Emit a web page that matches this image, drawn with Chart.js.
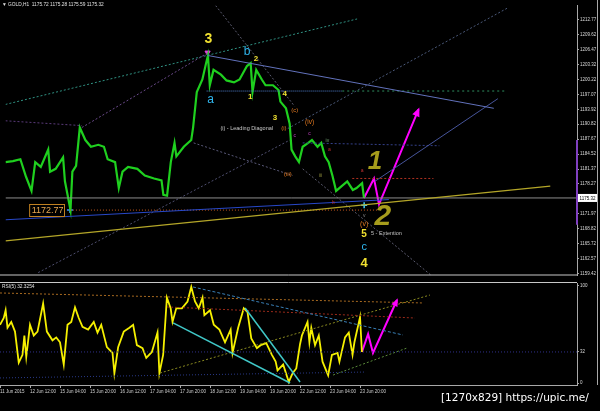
<!DOCTYPE html>
<html>
<head>
<meta charset="utf-8">
<script src="https://cdn.jsdelivr.net/npm/chart.js@4.4.1/dist/chart.umd.min.js"></script>
<style>
  html, body { margin: 0; padding: 0; background: #000; }
  body { width: 600px; height: 411px; position: relative; overflow: hidden; }
  canvas { position: absolute; left: 0; }
  #priceChart { top: 0; }
  #rsiChart { top: 281px; }
  #stamp { position: absolute; left: 441px; top: 391px; color: #fff; font: 10.5px "DejaVu Sans", sans-serif; white-space: nowrap; }
</style>
</head>
<body>
<canvas id="priceChart" width="600" height="281"></canvas>
<canvas id="rsiChart" width="600" height="130"></canvas>
<div id="stamp">[1270x829] https://upic.me/</div>
<script>
Chart.defaults.animation = false;
Chart.defaults.font.family = '"Liberation Sans", Arial, sans-serif';
Chart.defaults.color = '#c8c8c8';

// Axis data
const X_MAX = 307.7;   // bars visible in the window
const timeTicks = [0, 16, 32, 48, 64, 80, 96, 112, 128, 144, 160, 176, 192];
const timeLabels = ["11 Jun 2015", "12 Jun 12:00", "15 Jun 04:00", "15 Jun 20:00", "16 Jun 12:00",
  "17 Jun 04:00", "17 Jun 20:00", "18 Jun 12:00", "19 Jun 04:00", "19 Jun 20:00",
  "22 Jun 12:00", "23 Jun 04:00", "23 Jun 20:00"];
const priceTicks = [1212.77, 1209.62, 1206.47, 1203.32, 1200.22, 1197.07, 1193.92, 1190.82,
  1187.67, 1184.52, 1181.37, 1178.27, 1171.97, 1168.82, 1165.72, 1162.57, 1159.42];
const priceMin = 1159.01, priceMax = 1215.80;
const rsiTicks = [100, 32, 0];
const ohlc = [1175.72, 1175.28, 1175.59, 1175.32];
const rsiNow = 32.3254;

// GOLD H1 closes
const priceBars = [0, 4, 8, 11, 14, 16, 19, 23, 24, 27, 31, 32, 35, 36, 38, 40, 43, 46, 50, 53,
  55, 59, 61, 63, 66, 71, 75, 80, 84, 85, 87, 89, 91, 92, 96, 100, 101, 103, 106, 108,
  109, 110, 112, 116, 119, 123, 126, 130, 132, 133, 135, 138, 140, 144, 147, 148, 151, 153, 154, 156,
  158, 160, 163, 165, 168, 170, 172, 174, 176, 178, 181, 184, 187, 189, 192, 193];
const priceClose = [1182.86, 1183.06, 1183.47, 1179.83, 1176.80, 1182.86, 1181.85, 1185.49, 1180.84, 1181.45,
  1183.87, 1178.82, 1172.77, 1180.84, 1182.05, 1190.13, 1187.50, 1186.09, 1186.50, 1186.09,
  1183.47, 1182.86, 1177.40, 1180.84, 1181.85, 1181.45, 1180.03, 1179.42, 1179.02, 1175.99,
  1175.79, 1182.86, 1186.90, 1184.07, 1186.09, 1187.50, 1190.13, 1197.61, 1200.24, 1203.68,
  1205.29, 1199.03, 1202.26, 1201.25, 1200.04, 1199.63, 1200.24, 1203.07, 1203.68, 1197.61,
  1202.26, 1200.24, 1199.03, 1199.03, 1198.02, 1195.59, 1194.18, 1190.94, 1185.49, 1184.07,
  1182.86, 1186.09, 1186.90, 1187.50, 1186.09, 1186.90, 1184.07, 1182.86, 1180.03, 1176.80,
  1177.81, 1178.82, 1177.00, 1177.40, 1178.41, 1175.32];

// RSI(5)
const rsiBars = [0, 2, 3, 4, 6, 8, 10, 12, 13, 14, 16, 18, 20, 23, 25, 28, 30, 32, 34, 36,
  38, 40, 42, 44, 47, 50, 52, 54, 57, 60, 61, 63, 66, 69, 71, 73, 76, 78, 81, 84,
  85, 87, 89, 91, 92, 94, 97, 100, 102, 104, 106, 108, 109, 112, 114, 117, 120, 123, 124, 127,
  130, 132, 134, 137, 139, 142, 145, 147, 148, 151, 154, 156, 158, 160, 161, 164, 165, 166, 168, 170,
  172, 175, 177, 180, 181, 184, 186, 188, 189, 192, 193];
const rsiValues = [60, 67, 75, 57, 63, 53, 21, 29, 49, 27, 60, 49, 53, 82, 53, 44, 47, 42, 19, 60,
  63, 78, 67, 58, 55, 63, 52, 60, 37, 31, 10, 37, 53, 57, 60, 39, 36, 26, 32, 52,
  10, 29, 88, 77, 63, 77, 77, 84, 99, 84, 77, 88, 70, 75, 60, 55, 42, 55, 31, 57,
  77, 73, 46, 36, 39, 41, 29, 22, 13, 19, 1, 10, 15, 40, 49, 63, 42, 57, 39, 49,
  22, 8, 29, 31, 22, 47, 52, 29, 42, 68, 32];

// forecast paths (magenta)
const forecastBars = [193, 198.4, 201.1, 222.4];
const forecastPrice = [1175.32, 1179.42, 1173.97, 1193.97];
const rsiForecastBars = [193, 196.3, 198.9, 211.7];
const rsiForecast = [32, 50.5, 30.9, 85.6];

// trend lines: [bar1, value1, bar2, value2]
const priceLines = [
  { p: [0, 1194.99, 189.3, 1212.97], c: '#2f8f80', d: [2, 2] },
  { p: [108.8, 1205.29, 262.9, 1194.18], c: '#6272bc' },
  { p: [108.3, 1197.81, 181.3, 1197.81], c: '#5080d0', d: [1, 1] },
  { p: [181.3, 1197.81, 269.3, 1197.81], c: '#2f8f60', d: [2, 3] },
  { p: [152, 1189.93, 270.9, 1215.40], c: '#4a5878', d: [2, 2] },
  { p: [198.9, 1178.82, 265.1, 1196.20], c: '#46549a' },
  { p: [0, 1166.29, 293.3, 1177.81], c: '#b4a628', w: 1.3 },
  { p: [0, 1170.73, 206.4, 1174.98], c: '#2848c8' },
  { p: [0, ohlc[3], X_MAX, ohlc[3]], c: '#8c8c8c' },
  { p: [34.7, 1172.77, 201, 1172.77], c: '#c85a1e', d: [1, 2] },
  { p: [186.7, 1179.42, 230.4, 1179.42], c: '#b03020', d: [2, 2] },
  { p: [160, 1186.90, 233.6, 1186.30], c: '#34408a', d: [2, 2] },
  { p: [17.6, 1159.62, 153.1, 1187.50], c: '#4e4e6e', d: [2, 2] },
  { p: [101.3, 1186.90, 154.7, 1180.03], c: '#5a5a7a', d: [2, 2] },
  { p: [113.1, 1215.80, 155.7, 1194.58], c: '#5a5a6e', d: [2, 2] },
  { p: [160, 1181.44, 229.3, 1159.01], c: '#5a5a6e', d: [2, 2] },
  { p: [41.1, 1190.13, 108.3, 1205.70], c: '#6a4a8a', d: [2, 2] },
  { p: [0, 1191.55, 41.1, 1190.54], c: '#5a3a7a', d: [2, 2] }
];
const rsiLines = [
  { p: [92.3, 61.9, 154.7, 0], c: '#40c8c8', w: 1.5 },
  { p: [130.7, 77.3, 160, 1], c: '#40c8c8', w: 1.5 },
  { p: [102.9, 99, 214.9, 49.5], c: '#3a80b8', d: [3, 2] },
  { p: [0, 92.8, 225.6, 82.5], c: '#a86a20', d: [2, 2] },
  { p: [89.1, 78.4, 221.3, 67.0], c: '#9a2a1a', d: [2, 2] },
  { p: [0, 32, X_MAX, 32], c: '#30308a', d: [1, 2] },
  { p: [0, 5.2, 194.7, 11.3], c: '#2a3a8a', d: [1, 2] },
  { p: [85.3, 10.3, 229.3, 90.7], c: '#8a8a20', d: [2, 2] },
  { p: [177.6, 8.2, 217.1, 36.1], c: '#5a8a3a', d: [2, 2] }
];

// wave labels: text, bar, price
const YEL = '#f0e030', CYA = '#30b8f0', ORA = '#e07820', OLV = '#a69c1c';
const waveLabels = [
  { t: '3', x: 109.3, y: 1208.73, c: YEL, s: 14, f: 'bold' },
  { t: 'b', x: 130.1, y: 1206.1, c: CYA, s: 12 },
  { t: '2', x: 134.9, y: 1204.69, c: YEL, s: 8, f: 'bold' },
  { t: 'a', x: 110.4, y: 1196.0, c: CYA, s: 12 },
  { t: '1', x: 131.7, y: 1196.6, c: YEL, s: 8, f: 'bold' },
  { t: '4', x: 150.4, y: 1197.2, c: YEL, s: 8, f: 'bold' },
  { t: '3', x: 145.1, y: 1192.2, c: YEL, s: 8, f: 'bold' },
  { t: '(i) - Leading Diagonal', x: 115.7, y: 1189.93, c: '#c8c8c8', s: 5.5, a: 'left' },
  { t: '(i)', x: 149.9, y: 1189.93, c: ORA, s: 6 },
  { t: '(c)', x: 155.7, y: 1193.77, c: ORA, s: 6 },
  { t: '(iv)', x: 163.7, y: 1191.35, c: ORA, s: 6.5 },
  { t: '(iii)', x: 152, y: 1180.23, c: ORA, s: 6 },
  { t: '(v)', x: 193.1, y: 1169.92, c: ORA, s: 7 },
  { t: '5', x: 193.1, y: 1167.7, c: YEL, s: 10, f: 'bold' },
  { t: 'c', x: 193.1, y: 1165.1, c: CYA, s: 11 },
  { t: '4', x: 193.1, y: 1161.6, c: YEL, s: 13, f: 'bold' },
  { t: '5 - Extention', x: 196.8, y: 1167.9, c: '#c0c0c0', s: 5.5, a: 'left' },
  { t: '1', x: 198.9, y: 1182.86, c: OLV, s: 26, f: 'italic bold' },
  { t: '2', x: 203.2, y: 1171.34, c: OLV, s: 30, f: 'italic bold' },
  { t: 'c', x: 163.7, y: 1188.92, c: '#c040c0', s: 5 },
  { t: 'c', x: 155.7, y: 1188.5, c: '#c040c0', s: 5 },
  { t: 'iv', x: 173.3, y: 1187.3, c: '#6a9a6a', s: 5 },
  { t: 'a', x: 174.4, y: 1185.5, c: '#c03030', s: 5 },
  { t: 'iii', x: 169.6, y: 1180.0, c: '#8a8a3a', s: 5 },
  { t: 'a', x: 192, y: 1181.0, c: '#c03030', s: 5 },
  { t: 'b', x: 176.5, y: 1174.4, c: '#c03030', s: 5 },
  { t: 'v', x: 193.1, y: 1171.7, c: '#8a8a8a', s: 5 }
];
const lowLabel = { t: '1172.77', x: 31.5, y: 1172.77 };

const toXY = (xs, ys) => xs.map((x, i) => ({ x, y: ys[i] }));
const segment = (l) => ({
  data: [{ x: l.p[0], y: l.p[1] }, { x: l.p[2], y: l.p[3] }],
  borderColor: l.c, borderWidth: l.w || 1, borderDash: l.d || [],
  pointRadius: 0, tension: 0, fill: false
});

function rightAxis(min, max, ticks, fmt) {
  return {
    type: 'linear', position: 'right', min, max,
    afterBuildTicks: a => { a.ticks = ticks.map(v => ({ value: v })); },
    afterFit: a => { a.width = 23; a.paddingTop = 0; a.paddingBottom = 0; },
    grid: { drawOnChartArea: false, drawTicks: true, tickLength: 2, color: '#a8a8a8' },
    border: { display: true, color: '#a8a8a8' },
    ticks: { callback: fmt, font: { size: 4.5 }, color: '#d8d8d8', padding: 1, autoSkip: false }
  };
}

function drawLabels(chart, list) {
  const { ctx, scales: { x, y } } = chart;
  ctx.save();
  ctx.textBaseline = 'middle';
  list.forEach(l => {
    ctx.font = `${l.f || ''} ${l.s}px "Liberation Sans", Arial, sans-serif`;
    ctx.fillStyle = l.c;
    ctx.textAlign = l.a || 'center';
    ctx.fillText(l.t, x.getPixelForValue(l.x), y.getPixelForValue(l.y));
  });
  ctx.restore();
}

function arrowHead(chart, label, color, size) {
  const idx = chart.data.datasets.findIndex(d => d.label === label);
  const pts = chart.getDatasetMeta(idx).data;
  const a = pts[pts.length - 2], b = pts[pts.length - 1];
  const ang = Math.atan2(b.y - a.y, b.x - a.x);
  const ctx = chart.ctx;
  ctx.save();
  ctx.fillStyle = color;
  ctx.beginPath();
  ctx.moveTo(b.x + 2 * Math.cos(ang), b.y + 2 * Math.sin(ang));
  ctx.lineTo(b.x - size * Math.cos(ang - 0.5), b.y - size * Math.sin(ang - 0.5));
  ctx.lineTo(b.x - size * Math.cos(ang + 0.5), b.y - size * Math.sin(ang + 0.5));
  ctx.closePath();
  ctx.fill();
  ctx.restore();
}

function frame(ctx, x1, y1, x2, y2, color) {
  ctx.save();
  ctx.strokeStyle = color;
  ctx.lineWidth = 1;
  ctx.beginPath();
  ctx.moveTo(x1, y1);
  ctx.lineTo(x2, y2);
  ctx.stroke();
  ctx.restore();
}

const mainDecor = {
  id: 'mainDecor',
  afterDatasetsDraw(chart) {
    const { ctx, chartArea, scales: { x, y } } = chart;
    drawLabels(chart, waveLabels);
    arrowHead(chart, 'forecast', '#ff00ff', 8);

    // low price tag
    ctx.save();
    ctx.font = '9px "Liberation Sans", Arial, sans-serif';
    const w = ctx.measureText(lowLabel.t).width;
    const rx = Math.round(x.getPixelForValue(lowLabel.x)) + 0.5;
    const ry = Math.round(y.getPixelForValue(lowLabel.y)) + 0.5;
    ctx.fillStyle = '#000';
    ctx.fillRect(rx - w - 3, ry - 6, w + 3, 12);
    ctx.strokeStyle = '#c08020';
    ctx.strokeRect(rx - w - 3, ry - 6, w + 3, 12);
    ctx.fillStyle = '#e8a850';
    ctx.textAlign = 'right';
    ctx.textBaseline = 'middle';
    ctx.fillText(lowLabel.t, rx - 1, ry + 0.5);
    ctx.restore();

    // header
    ctx.save();
    ctx.font = '4.8px "Liberation Sans", Arial, sans-serif';
    ctx.fillStyle = '#e0e0e0';
    ctx.textBaseline = 'middle';
    ctx.fillText('\u25BC GOLD,H1  ' + ohlc.map(v => v.toFixed(2)).join(' '), 2, 5);
    ctx.restore();

    // marker on price axis
    ctx.save();
    ctx.strokeStyle = '#8040c0';
    ctx.lineWidth = 2;
    ctx.beginPath();
    ctx.moveTo(chartArea.right, y.getPixelForValue(1187.5));
    ctx.lineTo(chartArea.right, y.getPixelForValue(1169.7));
    ctx.stroke();
    const py = y.getPixelForValue(ohlc[3]);
    ctx.fillStyle = '#ffffff';
    ctx.fillRect(chartArea.right + 1, py - 4, 20, 8);
    ctx.fillStyle = '#000';
    ctx.font = '4.5px "Liberation Sans", Arial, sans-serif';
    ctx.textBaseline = 'middle';
    ctx.fillText(ohlc[3].toFixed(2), chartArea.right + 2.5, py + 0.5);
    ctx.restore();

    frame(ctx, 0, chartArea.bottom - 0.5, chartArea.right, chartArea.bottom - 0.5, '#c8c8c8');
    frame(ctx, 597.5, 0, 597.5, chart.height, '#a8a8a8');
  }
};

const rsiDecor = {
  id: 'rsiDecor',
  afterDatasetsDraw(chart) {
    const { ctx, chartArea } = chart;
    arrowHead(chart, 'rsiForecast', '#ff00ff', 7);
    ctx.save();
    ctx.font = '4.8px "Liberation Sans", Arial, sans-serif';
    ctx.fillStyle = '#e0e0e0';
    ctx.textBaseline = 'middle';
    ctx.fillText('RSI(5) ' + rsiNow.toFixed(4), 2, chartArea.top + 4);
    ctx.restore();
    frame(ctx, 0, 1.5, chartArea.right, 1.5, '#c8c8c8');
    frame(ctx, 597.5, 0, 597.5, chartArea.bottom, '#a8a8a8');
  }
};

new Chart(document.getElementById('priceChart'), {
  type: 'line',
  data: {
    datasets: [
      ...priceLines.map(segment),
      {
        label: 'GOLD', data: toXY(priceBars, priceClose),
        borderColor: '#1fd01f', borderWidth: 2.2, pointRadius: 0, tension: 0
      },
      {
        label: 'forecast', data: toXY(forecastBars, forecastPrice),
        borderColor: '#ff00ff', borderWidth: 2, pointRadius: 0, tension: 0
      },
      {
        label: 'marks', type: 'scatter',
        data: [{ x: 193.1, y: 1173.8 }, { x: 34.7, y: 1172.77 }],
        pointStyle: 'cross', pointRadius: 3, borderWidth: 1.5,
        borderColor: ['#40d0ff', '#4090ff']
      },
      {
        label: 'top', type: 'scatter',
        data: [{ x: 108.8, y: 1205.9 }],
        pointStyle: 'triangle', rotation: 180, pointRadius: 3,
        backgroundColor: '#e040e0', borderColor: '#e040e0'
      }
    ]
  },
  options: {
    responsive: false,
    devicePixelRatio: 1,
    layout: { padding: 0 },
    events: [],
    plugins: { legend: { display: false }, tooltip: { enabled: false } },
    scales: {
      x: { type: 'linear', display: false, min: 0, max: X_MAX },
      y: rightAxis(priceMin, priceMax, priceTicks, v => v.toFixed(2))
    }
  },
  plugins: [mainDecor]
});

new Chart(document.getElementById('rsiChart'), {
  type: 'line',
  data: {
    datasets: [
      ...rsiLines.map(segment),
      {
        label: 'RSI', data: toXY(rsiBars, rsiValues),
        borderColor: '#f5f000', borderWidth: 1.8, pointRadius: 0, tension: 0
      },
      {
        label: 'rsiForecast', data: toXY(rsiForecastBars, rsiForecast),
        borderColor: '#ff00ff', borderWidth: 2, pointRadius: 0, tension: 0
      }
    ]
  },
  options: {
    responsive: false,
    devicePixelRatio: 1,
    layout: { padding: { top: 2 } },
    events: [],
    plugins: { legend: { display: false }, tooltip: { enabled: false } },
    scales: {
      x: {
        type: 'linear', position: 'bottom', min: 0, max: X_MAX,
        afterBuildTicks: a => { a.ticks = timeTicks.map(v => ({ value: v })); },
        afterFit: a => { a.height = 26; a.paddingLeft = 0; a.paddingRight = 0; },
        grid: { drawOnChartArea: false, drawTicks: true, tickLength: 3, color: '#a8a8a8' },
        border: { display: true, color: '#a8a8a8' },
        ticks: {
          callback: v => timeLabels[timeTicks.indexOf(v)],
          align: 'start', maxRotation: 0, autoSkip: false,
          font: { size: 4.5 }, color: '#d0d0d0', padding: 1
        }
      },
      y: rightAxis(-2.06, 103.09, rsiTicks, v => String(v))
    }
  },
  plugins: [rsiDecor]
});
</script>
</body>
</html>
